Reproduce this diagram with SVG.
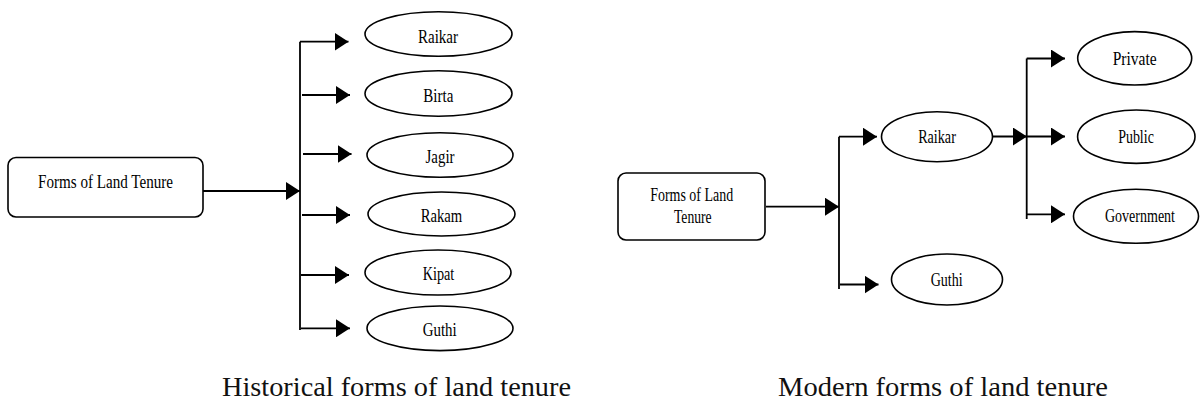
<svg xmlns="http://www.w3.org/2000/svg" width="1200" height="401" viewBox="0 0 1200 401">
<style>
.box{fill:#fff;stroke:#000;stroke-width:1.6}
.ell{fill:#fff;stroke:#000;stroke-width:1.6}
.lbl{font-family:"Liberation Serif","Times New Roman",serif;font-size:18px;fill:#000;text-anchor:middle}
.cap{font-family:"Liberation Serif","Times New Roman",serif;font-size:27px;fill:#111}
.con path{fill:none;stroke:#000;stroke-width:1.8}
</style>
<defs>
<marker id="ah" markerUnits="userSpaceOnUse" markerWidth="14" markerHeight="18" refX="14" refY="9" orient="auto">
<path d="M0,0 L14,9 L0,18 Z" fill="#000"/>
</marker>
</defs>

<g id="connectors" class="con">
<path d="M203,191 H300" marker-end="url(#ah)"/>
<path d="M300,41.7 V330"/>
<path d="M300,41.7 H348.5" marker-end="url(#ah)"/>
<path d="M302,95 H350" marker-end="url(#ah)"/>
<path d="M303,154 H351.5" marker-end="url(#ah)"/>
<path d="M302,215 H350" marker-end="url(#ah)"/>
<path d="M301,275 H349" marker-end="url(#ah)"/>
<path d="M301,328.3 H350" marker-end="url(#ah)"/>

<path d="M766,206.7 H839" marker-end="url(#ah)"/>
<path d="M839,136.7 V289"/>
<path d="M839,136.7 H877" marker-end="url(#ah)"/>
<path d="M840,284.5 H878.5" marker-end="url(#ah)"/>
<path d="M993,136.5 H1027" marker-end="url(#ah)"/>
<path d="M1026.7,58.5 V219"/>
<path d="M1026.7,58.5 H1065" marker-end="url(#ah)"/>
<path d="M1027,136.5 H1065" marker-end="url(#ah)"/>
<path d="M1027,214.3 H1065" marker-end="url(#ah)"/>
</g>

<g id="h-root">
<rect class="box" x="8" y="157.5" width="195" height="59.5" rx="8"/>
<text class="lbl" x="105.5" y="187.5" textLength="135" lengthAdjust="spacingAndGlyphs">Forms of Land Tenure</text>
</g>
<g id="h-raikar">
<ellipse class="ell" cx="438.5" cy="34" rx="73.5" ry="22.3"/>
<text class="lbl" x="438" y="42.5" textLength="40" lengthAdjust="spacingAndGlyphs">Raikar</text>
</g>
<g id="h-birta">
<ellipse class="ell" cx="438.5" cy="93.5" rx="73.5" ry="22.7"/>
<text class="lbl" x="438.3" y="101.7" textLength="30" lengthAdjust="spacingAndGlyphs">Birta</text>
</g>
<g id="h-jagir">
<ellipse class="ell" cx="440" cy="155" rx="73" ry="22.2"/>
<text class="lbl" x="440" y="163.3" textLength="29" lengthAdjust="spacingAndGlyphs">Jagir</text>
</g>
<g id="h-rakam">
<ellipse class="ell" cx="441.5" cy="214" rx="73.5" ry="22"/>
<text class="lbl" x="441.5" y="221.7" textLength="41.6" lengthAdjust="spacingAndGlyphs">Rakam</text>
</g>
<g id="h-kipat">
<ellipse class="ell" cx="438" cy="272.5" rx="73" ry="22.5"/>
<text class="lbl" x="438.5" y="279.5" textLength="31.6" lengthAdjust="spacingAndGlyphs">Kipat</text>
</g>
<g id="h-guthi">
<ellipse class="ell" cx="440" cy="328.3" rx="73" ry="22.3"/>
<text class="lbl" x="439.7" y="336" textLength="34" lengthAdjust="spacingAndGlyphs">Guthi</text>
</g>
<text class="cap" x="222" y="396" textLength="349" lengthAdjust="spacingAndGlyphs">Historical forms of land tenure</text>

<g id="m-root">
<rect class="box" x="618" y="173" width="147" height="67" rx="8"/>
<text class="lbl" x="691.7" y="201" textLength="83" lengthAdjust="spacingAndGlyphs">Forms of Land</text>
<text class="lbl" x="692.8" y="222.7" textLength="37.7" lengthAdjust="spacingAndGlyphs">Tenure</text>
</g>
<g id="m-raikar">
<ellipse class="ell" cx="937" cy="136.7" rx="55.5" ry="25"/>
<text class="lbl" x="937" y="142.7" textLength="37.7" lengthAdjust="spacingAndGlyphs">Raikar</text>
</g>
<g id="m-guthi">
<ellipse class="ell" cx="947" cy="279.5" rx="55.5" ry="25.5"/>
<text class="lbl" x="946.7" y="286" textLength="32" lengthAdjust="spacingAndGlyphs">Guthi</text>
</g>
<g id="m-private">
<ellipse class="ell" cx="1134.7" cy="58.3" rx="57" ry="26.7"/>
<text class="lbl" x="1134.7" y="65" textLength="44" lengthAdjust="spacingAndGlyphs">Private</text>
</g>
<g id="m-public">
<ellipse class="ell" cx="1136.3" cy="136.7" rx="58.7" ry="26.7"/>
<text class="lbl" x="1136" y="142.7" textLength="35.7" lengthAdjust="spacingAndGlyphs">Public</text>
</g>
<g id="m-government">
<ellipse class="ell" cx="1136" cy="216.3" rx="62.5" ry="27"/>
<text class="lbl" x="1140" y="221.7" textLength="70" lengthAdjust="spacingAndGlyphs">Government</text>
</g>
<text class="cap" x="778" y="396" textLength="330" lengthAdjust="spacingAndGlyphs">Modern forms of land tenure</text>
</svg>
